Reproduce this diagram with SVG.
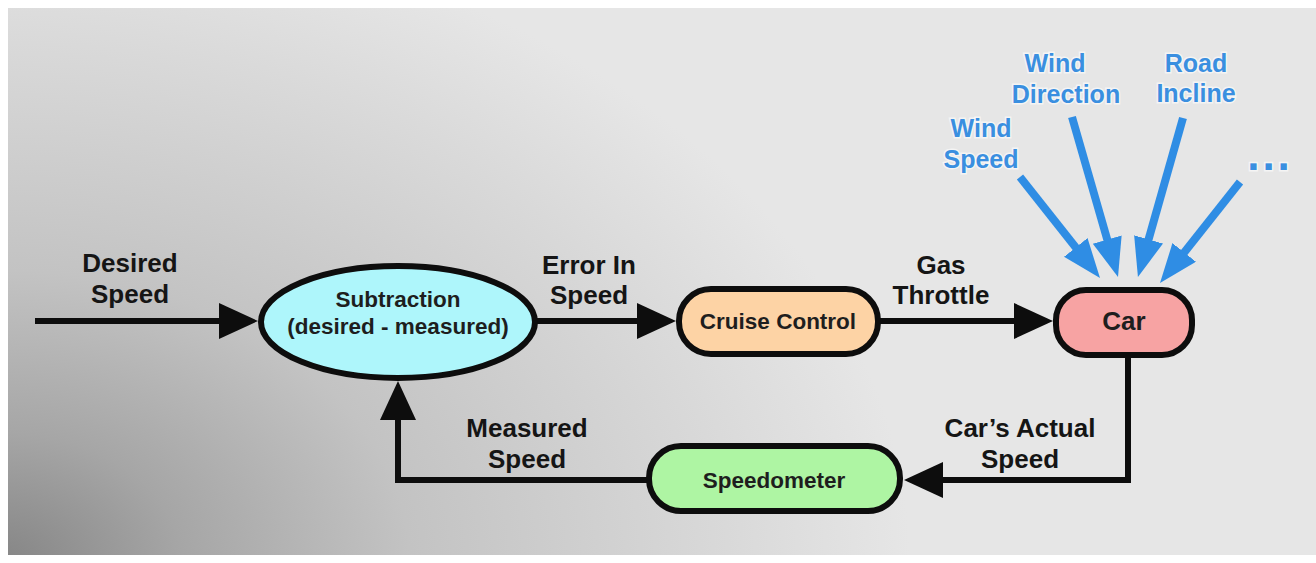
<svg xmlns="http://www.w3.org/2000/svg" width="1316" height="563" viewBox="0 0 1316 563">
<style>
.lbl{font-family:"Liberation Sans",Arial,sans-serif;font-weight:bold;font-size:26px;fill:#151515;text-anchor:middle}
.blue{font-family:"Liberation Sans",Arial,sans-serif;font-weight:bold;font-size:25px;fill:#3a8fe0;text-anchor:middle;stroke:#ffffff;stroke-opacity:0.6;stroke-width:3;paint-order:stroke}
.ntxt{font-family:"Liberation Sans",Arial,sans-serif;font-weight:bold;font-size:22.5px;fill:#1e1e1e;text-anchor:middle}
.node{stroke:#0d0d0d;stroke-width:6}
.conn{stroke:#0d0d0d;stroke-width:6;fill:none}
.bconn{stroke:#2f8de4;stroke-width:8;fill:none}
</style>
<defs>
<radialGradient id="bg" gradientUnits="userSpaceOnUse" cx="0" cy="563" r="650" gradientTransform="translate(0,563) scale(1.4,1) translate(0,-563)">
<stop offset="0" stop-color="#858585"/>
<stop offset="0.2" stop-color="#a6a6a6"/>
<stop offset="0.45" stop-color="#c3c3c3"/>
<stop offset="0.8" stop-color="#d9d9d9"/>
<stop offset="1" stop-color="#e6e6e6"/>
</radialGradient>
<marker id="ah" markerUnits="userSpaceOnUse" markerWidth="40" markerHeight="38" refX="1" refY="18" orient="auto">
<path d="M0,0 L39,18 L0,36 z" fill="#0d0d0d"/>
</marker>
<marker id="bh" markerUnits="userSpaceOnUse" markerWidth="40" markerHeight="32" refX="1" refY="15" orient="auto">
<path d="M0,0 L39,15 L0,30 z" fill="#2f8de4"/>
</marker>
</defs>
<rect x="0" y="0" width="1316" height="563" fill="#ffffff"/>
<rect x="8" y="8" width="1308" height="547" fill="url(#bg)"/>

<g id="connectors">
<line class="conn" x1="35" y1="321" x2="220" y2="321" marker-end="url(#ah)"/>
<line class="conn" x1="536" y1="321" x2="638" y2="321" marker-end="url(#ah)"/>
<line class="conn" x1="878" y1="321" x2="1015" y2="321" marker-end="url(#ah)"/>
<path class="conn" d="M1128,356 V480 H942" marker-end="url(#ah)"/>
<path class="conn" d="M648,480 H398 V419" marker-end="url(#ah)"/>
<line class="bconn" x1="1020" y1="177" x2="1076.4" y2="248.2" marker-end="url(#bh)"/>
<line class="bconn" x1="1072" y1="117" x2="1107.5" y2="240.5" marker-end="url(#bh)"/>
<line class="bconn" x1="1183" y1="118" x2="1148.3" y2="240.4" marker-end="url(#bh)"/>
<line class="bconn" x1="1240" y1="182" x2="1183.6" y2="253.2" marker-end="url(#bh)"/>
</g>

<g id="labels">
<text class="lbl" x="130" y="272">Desired</text>
<text class="lbl" x="130" y="303">Speed</text>
<text class="lbl" x="589" y="274">Error In</text>
<text class="lbl" x="589" y="304">Speed</text>
<text class="lbl" x="941" y="274">Gas</text>
<text class="lbl" x="941" y="304">Throttle</text>
<text class="lbl" x="527" y="437">Measured</text>
<text class="lbl" x="527" y="468">Speed</text>
<text class="lbl" x="1020" y="437">Car’s Actual</text>
<text class="lbl" x="1020" y="468">Speed</text>
<text class="blue" x="1055" y="72">Wind</text>
<text class="blue" x="1066" y="103">Direction</text>
<text class="blue" x="1196" y="72">Road</text>
<text class="blue" x="1196" y="102">Incline</text>
<text class="blue" x="981" y="137">Wind</text>
<text class="blue" x="981" y="168">Speed</text>
<text class="blue" x="1270" y="170" style="font-size:44px;letter-spacing:3px">...</text>
</g>

<g id="subtraction">
<ellipse class="node" cx="398" cy="322" rx="137" ry="56" fill="#aef6fb"/>
<text class="ntxt" x="398" y="307">Subtraction</text>
<text class="ntxt" x="398" y="334">(desired - measured)</text>
</g>
<g id="cruise">
<rect class="node" x="679" y="289" width="199" height="65" rx="32" fill="#fdd3a5"/>
<text class="ntxt" x="778" y="329">Cruise Control</text>
</g>
<g id="car">
<rect class="node" x="1056" y="290" width="136" height="65" rx="30" fill="#f7a3a3"/>
<text class="ntxt" x="1124" y="330" style="font-size:26px">Car</text>
</g>
<g id="speedometer">
<rect class="node" x="649" y="446" width="251" height="65" rx="32" fill="#aef5a3"/>
<text class="ntxt" x="774" y="488">Speedometer</text>
</g>
</svg>
